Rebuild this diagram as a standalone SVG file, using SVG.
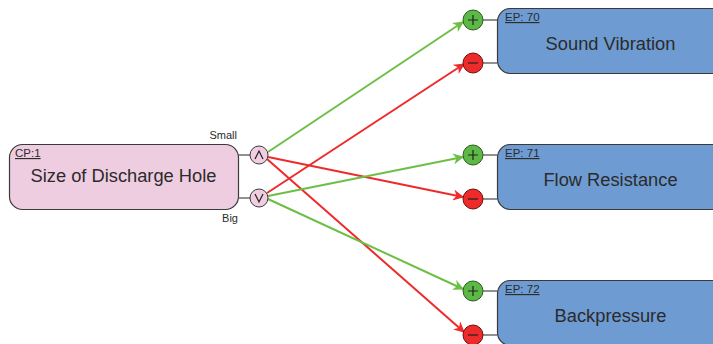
<svg xmlns="http://www.w3.org/2000/svg" width="713" height="344" viewBox="0 0 713 344">
<defs>
<style>
.lbl{font-family:"Liberation Sans",Arial,sans-serif;fill:#2b2b2b}
.id{font-size:11.5px;text-decoration:underline}
.main{font-size:18.3px;text-anchor:middle}
.small{font-size:11px}
.cp{fill:#efcde1;stroke:#3a3a3a;stroke-width:1.2}
.ep{fill:#6e9bd1;stroke:#3a3a3a;stroke-width:1.2}
.stub{stroke:#555;stroke-width:1.3;fill:none}
.pc{fill:#f0cde1;stroke:#3a3a3a;stroke-width:1}
.plus{fill:#5cb946;stroke:#2e5a22;stroke-width:1}
.minus{fill:#ee2b2b;stroke:#6a1010;stroke-width:1}
.sym{stroke:#222;stroke-width:1.2;fill:none}
.g{stroke:#6cbf45;stroke-width:2;fill:none;marker-end:url(#ag)}
.r{stroke:#ee2a2a;stroke-width:2;fill:none;marker-end:url(#ar)}
</style>
<marker id="ag" viewBox="0 0 10 10" refX="9" refY="5" markerWidth="5.5" markerHeight="5.5" orient="auto" markerUnits="strokeWidth"><path d="M0,0 L10,5 L0,10 L3,5 z" fill="#6cbf45"/></marker>
<marker id="ar" viewBox="0 0 10 10" refX="9" refY="5" markerWidth="5.5" markerHeight="5.5" orient="auto" markerUnits="strokeWidth"><path d="M0,0 L10,5 L0,10 L3,5 z" fill="#ee2a2a"/></marker>
</defs>

<g id="connectors">
<line class="g" x1="268" y1="152" x2="463" y2="22"/>
<line class="r" x1="268" y1="157" x2="463" y2="197"/>
<line class="r" x1="267" y1="159" x2="464" y2="332"/>
<line class="g" x1="268" y1="196" x2="463" y2="157"/>
<line class="g" x1="268" y1="199" x2="463" y2="289"/>
<line class="r" x1="267" y1="193" x2="464" y2="64"/>
</g>

<g id="cp1">
<rect class="cp" x="9.5" y="144.5" width="229" height="65" rx="13"/>
<line class="stub" x1="238" y1="155" x2="250" y2="155"/>
<line class="stub" x1="238" y1="198" x2="250" y2="198"/>
<circle class="pc" cx="259" cy="155" r="9"/>
<polyline class="sym" points="255,159 259,151 263,159"/>
<circle class="pc" cx="259" cy="198" r="9"/>
<polyline class="sym" points="255,194 259,202 263,194"/>
<text class="lbl id" x="15" y="157">CP:1</text>
<text class="lbl main" x="123.5" y="182">Size of Discharge Hole</text>
<text class="lbl small" x="237" y="139" text-anchor="end">Small</text>
<text class="lbl small" x="238" y="222" text-anchor="end">Big</text>
</g>

<g id="ep70">
<line class="stub" x1="483" y1="20" x2="497" y2="20"/>
<line class="stub" x1="483" y1="63" x2="497" y2="63"/>
<rect class="ep" x="497.5" y="8.5" width="228" height="65" rx="13"/>
<circle class="plus" cx="473" cy="20" r="10"/>
<path class="sym" d="M468,20 H478 M473,15 V25"/>
<circle class="minus" cx="473" cy="63" r="10"/>
<path class="sym" d="M468,63 H478"/>
<text class="lbl id" x="505" y="21">EP: 70</text>
<text class="lbl main" x="610.5" y="50">Sound Vibration</text>
</g>

<g id="ep71">
<line class="stub" x1="483" y1="155" x2="497" y2="155"/>
<line class="stub" x1="483" y1="199" x2="497" y2="199"/>
<rect class="ep" x="497.5" y="144.5" width="228" height="65" rx="13"/>
<circle class="plus" cx="473" cy="155" r="10"/>
<path class="sym" d="M468,155 H478 M473,150 V160"/>
<circle class="minus" cx="473" cy="199" r="10"/>
<path class="sym" d="M468,199 H478"/>
<text class="lbl id" x="505" y="157">EP: 71</text>
<text class="lbl main" x="610.5" y="186">Flow Resistance</text>
</g>

<g id="ep72">
<line class="stub" x1="483" y1="291" x2="497" y2="291"/>
<line class="stub" x1="483" y1="335" x2="497" y2="335"/>
<rect class="ep" x="497.5" y="280.5" width="228" height="65" rx="13"/>
<circle class="plus" cx="473" cy="291" r="10"/>
<path class="sym" d="M468,291 H478 M473,286 V296"/>
<circle class="minus" cx="473" cy="335" r="10"/>
<path class="sym" d="M468,335 H478"/>
<text class="lbl id" x="505" y="293">EP: 72</text>
<text class="lbl main" x="610.5" y="322">Backpressure</text>
</g>
</svg>
